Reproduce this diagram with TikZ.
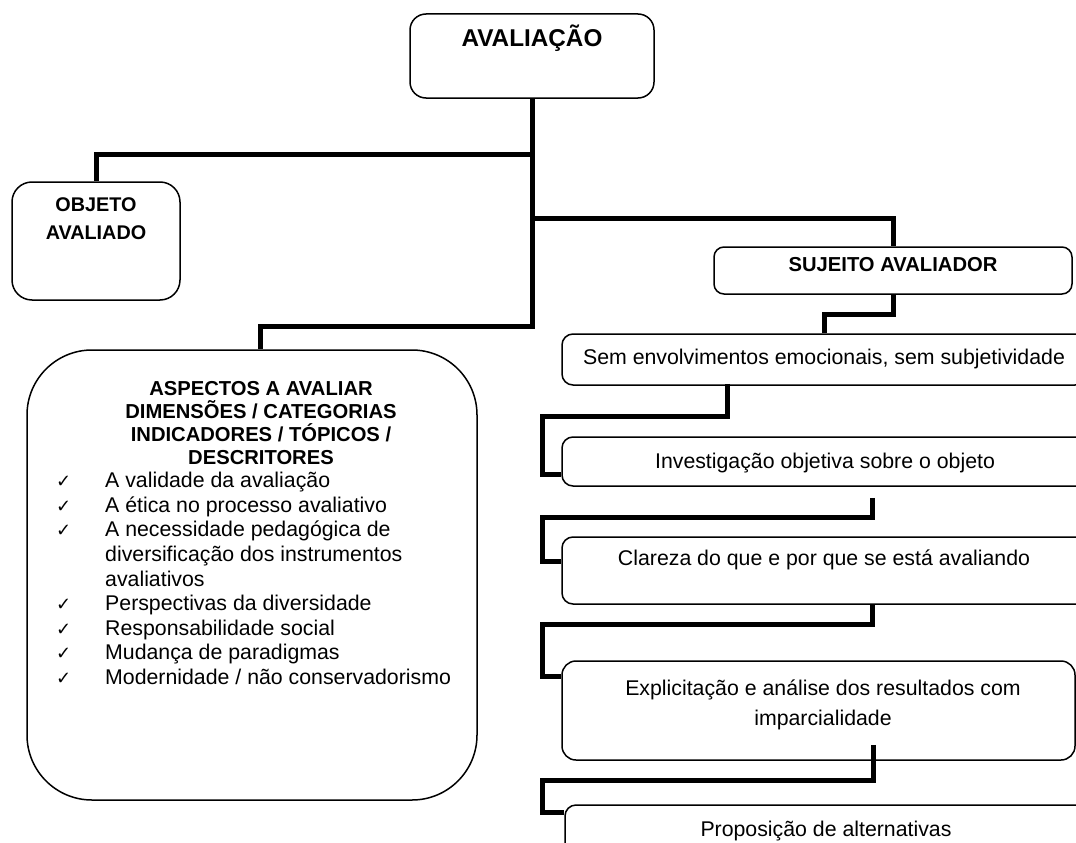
\documentclass[tikz,border=0pt]{standalone}
\usepackage{fontspec}
\setmainfont{Liberation Sans}
\newfontfamily\djvfont{DejaVu Sans}
\usetikzlibrary{calc}
\newcommand{\chkmark}{{\djvfont\bfseries\fontsize{18}{18}\selectfont ✓}}
\newcommand{\ckitem}{\llap{\chkmark\hspace{34pt}}}
\begin{document}
\begin{tikzpicture}[x=1pt,y=-1pt,
  box/.style={draw, line width=1.5pt, rounded corners=11pt, inner sep=0pt, anchor=center},
  conn/.style={line width=5pt},
  bt/.style={font={\fontsize{20.2}{23}\selectfont\bfseries}, inner sep=0pt},
  rt/.style={font={\fontsize{21.3}{30}\selectfont}, inner sep=0pt}]
\useasboundingbox (0,0) rectangle (1076,843);
\clip (0,0) rectangle (1076,843);

% boxes
\node[box, rounded corners=16pt, minimum width=244, minimum height=84] (aval) at (532,56) {};
\node[box, rounded corners=20pt, minimum width=168, minimum height=118] (obj) at (96,241) {};
\node[box, rounded corners=10pt, minimum width=358, minimum height=47] (suj) at (893,270.5) {};
\node[box, rounded corners=65pt, minimum width=450, minimum height=450] (asp) at (252,575) {};
\node[box, minimum width=524, minimum height=51] (sem) at (824,359.5) {};
\node[box, minimum width=528, minimum height=49] (inv) at (826,461.5) {};
\node[box, minimum width=528, minimum height=67] (clar) at (826,570.5) {};
\node[box, rounded corners=14pt, minimum width=513, minimum height=99] (expl) at (818.5,710.5) {};
\node[box, minimum width=525, minimum height=55] (prop) at (827.5,832.5) {};

% texts
\node[bt, font={\fontsize{24.3}{26}\selectfont\bfseries}, anchor=base] (tAval) at (532,46.5) {AVALIAÇÃO};
\node[bt, font={\fontsize{19.8}{28}\selectfont\bfseries}, align=center, anchor=north] (tObj) at (96,197) {OBJETO\\AVALIADO};
\node[bt, anchor=base] (tSuj) at (893,271) {SUJEITO AVALIADOR};
\node[bt, align=center, anchor=north] (tAsp) at (261,381) {ASPECTOS A AVALIAR\\DIMENSÕES / CATEGORIAS\\INDICADORES / TÓPICOS /\\DESCRITORES};
\node[rt, font={\fontsize{21.3}{24.6}\selectfont}, align=left, anchor=north west] (tList) at (105,472)
 {\ckitem A validade da avaliação\\
  \ckitem A ética no processo avaliativo\\
  \ckitem A necessidade pedagógica de\\
  diversificação dos instrumentos\\
  avaliativos\\
  \ckitem Perspectivas da diversidade\\
  \ckitem Responsabilidade social\\
  \ckitem Mudança de paradigmas\\
  \ckitem Modernidade / não conservadorismo};
\node[rt, anchor=base] (tSem) at (824,364.5) {Sem envolvimentos emocionais, sem subjetividade};
\node[rt, anchor=base] (tInv) at (825,468.5) {Investigação objetiva sobre o objeto};
\node[rt, anchor=base] (tClar) at (824,565.5) {Clareza do que e por que se está avaliando};
\node[rt, align=center, anchor=north] (tExpl) at (823,680) {Explicitação e análise dos resultados com\\imparcialidade};
\node[rt, anchor=base] (tProp) at (826,836.5) {Proposição de alternativas};

% connectors
\coordinate (jA) at (532,154);
\coordinate (jB) at (532,218);
\coordinate (jC) at (532,326);
\coordinate (b1) at (542,416);
\coordinate (b2) at (542,517);
\coordinate (b3) at (542,624);
\coordinate (b4) at (542,780);
\draw[conn] (aval.south) -- (jC) -| ($(asp.north)+(8,0)$);
\draw[conn] (jA) -| (obj.north);
\draw[conn] (jB) -| (suj.north);
\draw[conn] (suj.south) -- ++(0,20) -| (sem.north);
\draw[conn] ($(sem.south west)+(166,-2)$) |- (b1) |- ($(inv.west)+(0,12.5)$);
\draw[conn] ($(inv.south)+(46,11)$) |- (b2) |- ($(clar.west)+(0,-9.5)$);
\draw[conn] ($(clar.south)+(46,0)$) |- (b3) |- ($(expl.west)+(0,-34.5)$);
\draw[conn] ($(expl.south)+(54.5,-16)$) |- (b4) |- ($(prop.west)+(0,-20.5)$);
\end{tikzpicture}
\end{document}
